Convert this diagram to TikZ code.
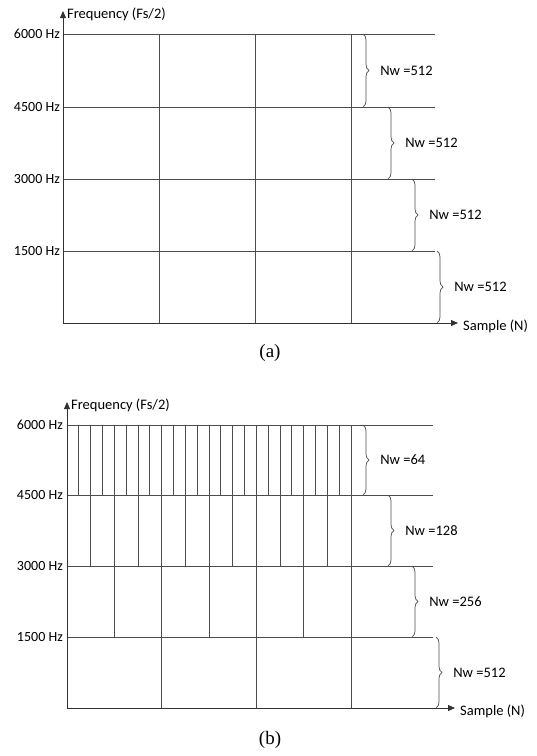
\documentclass[tikz,border=0pt]{standalone}
\usepackage{fontspec}
\setmainfont{Carlito}
\newfontfamily\capfont{Liberation Serif}
\usetikzlibrary{arrows.meta, positioning, decorations.pathreplacing}

\begin{document}
\begin{tikzpicture}[
  x=1pt, y=-1pt,
  grid/.style={draw=black!70, line width=0.8pt},
  axis/.style={-{Triangle[length=7pt,width=6pt]}, draw=black!80, line width=0.8pt},
  tick/.style={anchor=east, font=\fontsize{14}{16}\selectfont, inner sep=1pt},
  axlabel/.style={anchor=west, font=\fontsize{14.5}{16}\selectfont, inner sep=1pt},
  nwbrace/.style={decorate, decoration={brace, amplitude=6pt}, draw=black!70, line width=0.7pt},
  nwlabel/.style={anchor=west, font=\fontsize{14.5}{16}\selectfont, inner sep=1pt},
  caption/.style={font=\capfont\fontsize{19}{21}\selectfont}
]
\useasboundingbox (0,0) rectangle (537,756);

% (a) uniform windows
\foreach \y in {34,107,179,251}
  \draw[grid] (63,\y) -- (435,\y);
\foreach \x in {159,255,351}
  \draw[grid] (\x,34) -- (\x,323);
\draw[axis] (63,323) -- (63,11);
\draw[axis] (63,323) -- (458,323);
\node[axlabel] (freqA) at (66,14) {Frequency (Fs/2)};
\node[axlabel] (sampA) at (462,326) {Sample (N)};
\foreach \y/\f in {34/6000,107/4500,179/3000,251/1500}
  \node[tick] (tA\f) at (61,\y) {\f{} Hz};
\foreach \x/\t/\b [count=\i] in {363/34/107,388/107/179,412/179/251,437/251/323}
  \draw[nwbrace] (\x,\t) -- (\x,\b) node[midway, nwlabel, xshift=16pt] (nwA\i) {Nw =512};
\node[caption] (capA) at (270,353) {(a)};

% (b) multi-resolution windows
\foreach \y in {425,495,566,637}
  \draw[grid] (67,\y) -- (433,\y);
\foreach \n/\t/\b in {24/425/495,12/495/566,6/566/637,3/637/708}
  \foreach \k in {1,...,\n}
    \draw[grid] ({67+284*\k/\n},\t) -- ({67+284*\k/\n},\b);
\draw[axis] (67,708) -- (67,402);
\draw[axis] (67,708) -- (455,708);
\node[axlabel] (freqB) at (70,405) {Frequency (Fs/2)};
\node[axlabel] (sampB) at (459,711) {Sample (N)};
\foreach \y/\f in {425/6000,495/4500,566/3000,637/1500}
  \node[tick] (tB\f) at (64,\y) {\f{} Hz};
\foreach \x/\t/\b/\w [count=\i] in {363/425/495/64,388/495/566/128,412/566/637/256,436/637/708/512}
  \draw[nwbrace] (\x,\t) -- (\x,\b) node[midway, nwlabel, xshift=16pt] (nwB\i) {Nw =\w};
\node[caption] (capB) at (270,740) {(b)};

\end{tikzpicture}
\end{document}
